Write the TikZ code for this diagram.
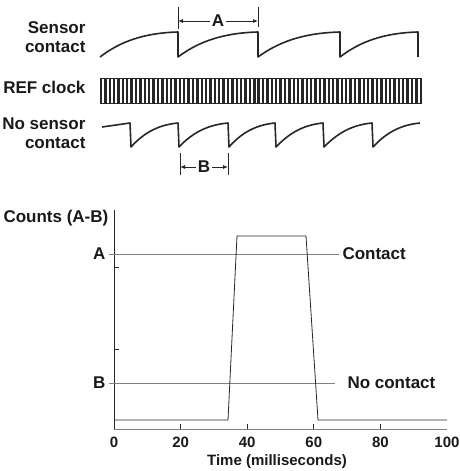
\documentclass[tikz,border=0pt]{standalone}
\usepackage{fontspec}
\setmainfont{Liberation Sans}
\usetikzlibrary{arrows.meta, calc}

\begin{document}
\begin{tikzpicture}[x=1pt, y=-1pt,
   every node/.style={font=\fontsize{17}{19}\selectfont\bfseries, text=black!90},
   small/.style={font=\fontsize{15}{17}\selectfont\bfseries},
   wave/.style={line width=1.6pt, line join=round, color=black!85},
   dimline/.style={line width=0.8pt, color=black!85},
   dimarrow/.style={-{Latex[length=5pt,width=4pt]}, line width=0.8pt, color=black!85},
   refline/.style={line width=1pt, color=black!50},
   plotline/.style={line width=0.8pt, color=black!85}]
   \newcommand{\tms}[1]{114+3.33*#1}
   \useasboundingbox (0,0) rectangle (459,471);
   % sensor contact
   \node[anchor=east, align=right] (sensor) at (89,37.5) {Sensor\\contact};
   \draw[wave] (100,57) \foreach \a/\b in {100/178,178/258,258/340,340/418}
      { .. controls ({\a+0.25*(\b-\a)},42) and ({\a+0.55*(\b-\a)},33) .. (\b,32) -- (\b,57) };
   \coordinate (aL) at (178,21);
   \coordinate (aR) at (258,21);
   \draw[dimline] ($(aL)+(0,-14)$) -- ($(aL)+(0,8)$);
   \draw[dimline] ($(aR)+(0,-14)$) -- ($(aR)+(0,6)$);
   \node[inner sep=2pt] (dimA) at (218,21) {A};
   \draw[dimarrow] (dimA) -- (aL);
   \draw[dimarrow] (dimA) -- (aR);
   % clock
   \node[anchor=east] (clock) at (89,87) {REF clock};
   \draw[line width=0.6pt, color=black!85] (100,78) -- (422,78) (100,103) -- (422,103);
   \foreach \i in {0,...,73}
      \draw[line width=2.4pt, color=black!85] ({101+4.38*\i},78) -- ({101+4.38*\i},103);
   % no sensor contact
   \node[anchor=east, align=right] (nosensor) at (89,133) {No sensor\\contact};
   \draw[wave] (102,127) -- (130,123) -- (131,147)
      \foreach \a/\b in {131/178,179/228,229/275,277/323,325/372}
      { .. controls ({\a+0.25*(\b-\a)},134) and ({\a+0.55*(\b-\a)},125) .. (\b,123) -- ({\b+1},147) }
      .. controls (385,134) and (399,125) .. (420,123);
   \coordinate (bL) at (180,167);
   \coordinate (bR) at (228,167);
   \draw[dimline] ($(bL)+(0,-14)$) -- ($(bL)+(0,8)$);
   \draw[dimline] ($(bR)+(0,-14)$) -- ($(bR)+(0,8)$);
   \node[inner sep=2pt] (dimB) at (204,167) {B};
   \draw[dimarrow] (dimB) -- (bL);
   \draw[dimarrow] (dimB) -- (bR);
   % counts plot
   \node[anchor=west] (counts) at (0,218) {Counts (A-B)};
   \draw[plotline] (114,210) -- (114,429);
   \draw[refline] (114,429) -- (447,429);
   \foreach \t in {20,40,60,80}
      \draw[plotline] ({\tms{\t}},429) -- ({\tms{\t}},424);
   \foreach \t in {0,20,...,100}
      \node[small] (tick\t) at ({\tms{\t}},442) {\t};
   \node[small] (timelbl) at (277,462) {Time (milliseconds)};
   \draw[plotline] (114,267) -- (119,267) (114,349) -- (119,349);
   \node[anchor=east] (levA) at (109,254) {A};
   \node[anchor=west] (contact) at (339,254) {Contact};
   \draw[refline] (levA) -- (contact);
   \node[anchor=east] (levB) at (109,383) {B};
   \node[anchor=west] (nocontact) at (344,383) {No contact};
   \draw[refline, shorten >=9pt] (levB) -- (nocontact);
   \draw[plotline] (114,420) -- (228,420) -- (237,236) -- (306,236) -- (318,420) -- (447,420);
\end{tikzpicture}
\end{document}
